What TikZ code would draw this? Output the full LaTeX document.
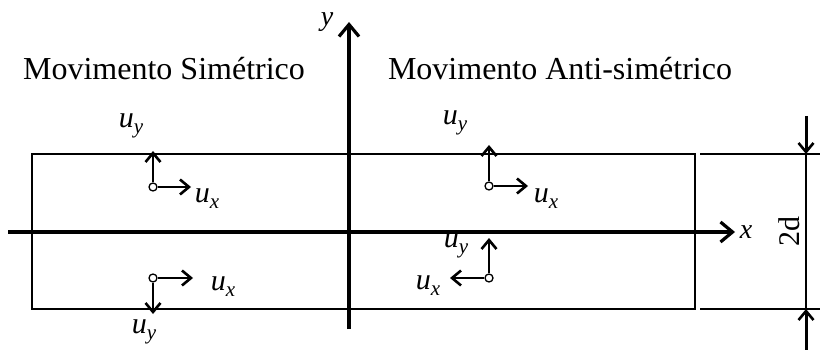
\documentclass[tikz,border=0pt]{standalone}
\usepackage{fontspec}
\setmainfont{Liberation Serif}
\usetikzlibrary{arrows.meta}
\newcommand{\usub}[1]{\textit{u}\raisebox{-6pt}{\fontsize{21}{21}\selectfont\textit{#1}}}
\begin{document}
\begin{tikzpicture}[x=1pt,y=-1pt,
  axis/.style={line width=3.2pt,-{Straight Barb[length=12pt,width=20pt,line width=3.2pt]}},
  vec/.style={line width=2.6pt,-{Straight Barb[length=9pt,width=15pt,line width=2.6pt]}},
  thin/.style={line width=1.4pt},
  lbl/.style={font=\fontsize{32}{34}\selectfont, inner sep=0pt},
  ulbl/.style={font=\fontsize{30}{32}\selectfont, inner sep=0pt},
  pt/.style={circle,draw,fill=white,line width=1.3pt,inner sep=0pt,minimum size=8pt}]
\useasboundingbox (0,0) rectangle (820,350);
% rectangle
\draw[thin] (32,154) rectangle (695,309);
% axes
\coordinate (xs) at (8,232);
\coordinate (xe) at (735,232);
\coordinate (ys) at (349,329);
\coordinate (ye) at (349,22);
\draw[axis] (xs) -- (xe);
\draw[axis] (ys) -- (ye);
\node[ulbl,font=\fontsize{28}{30}\selectfont\itshape] (xl) at (746,232) {x};
\node[ulbl,font=\fontsize{28}{30}\selectfont\itshape] (yl) at (327,22) {y};
% titles
\node[lbl,anchor=base] (t1) at (164,80) {Movimento Simétrico};
\node[lbl,anchor=base] (t2) at (560,80) {Movimento Anti-simétrico};
% dimension
\coordinate (e1a) at (700,154); \coordinate (e1b) at (820,154);
\coordinate (e2a) at (700,309); \coordinate (e2b) at (820,309);
\draw[thin] (e1a) -- (e1b);
\draw[thin] (e2a) -- (e2b);
\coordinate (d1) at (806,154); \coordinate (d2) at (806,309);
\draw[thin] (d1) -- (d2);
\coordinate (a1) at (806,116); \coordinate (a2) at (806,352);
\draw[vec,line width=3pt] (a1) -- (d1);
\draw[vec,line width=3pt] (a2) -- (d2);
\node[lbl,font=\fontsize{30}{32}\selectfont,rotate=90] (dl) at (789,232) {2d};
% symmetric top
\node[pt] (p1) at (153,187) {};
\coordinate (p1y) at (153,151); \coordinate (p1x) at (191,187);
\draw[vec] (p1) -- (p1y);
\draw[vec] (p1) -- (p1x);
\node[ulbl] (p1yl) at (131,126) {\usub{y}};
\node[ulbl] (p1xl) at (207,199) {\usub{x}};
% symmetric bottom
\node[pt] (p2) at (153,278) {};
\coordinate (p2y) at (153,314); \coordinate (p2x) at (193,278);
\draw[vec] (p2) -- (p2y);
\draw[vec] (p2) -- (p2x);
\node[ulbl] (p2yl) at (144,332) {\usub{y}};
\node[ulbl] (p2xl) at (223,287) {\usub{x}};
% antisym top
\node[pt] (p3) at (489,186) {};
\coordinate (p3y) at (489,145); \coordinate (p3x) at (528,186);
\draw[vec] (p3) -- (p3y);
\draw[vec] (p3) -- (p3x);
\node[ulbl] (p3yl) at (455,123) {\usub{y}};
\node[ulbl] (p3xl) at (546,199) {\usub{x}};
% antisym bottom
\node[pt] (p4) at (489,278) {};
\coordinate (p4y) at (489,238); \coordinate (p4x) at (450,278);
\draw[vec] (p4) -- (p4y);
\draw[vec] (p4) -- (p4x);
\node[ulbl] (p4yl) at (456,246) {\usub{y}};
\node[ulbl] (p4xl) at (428,286) {\usub{x}};
\end{tikzpicture}
\end{document}
